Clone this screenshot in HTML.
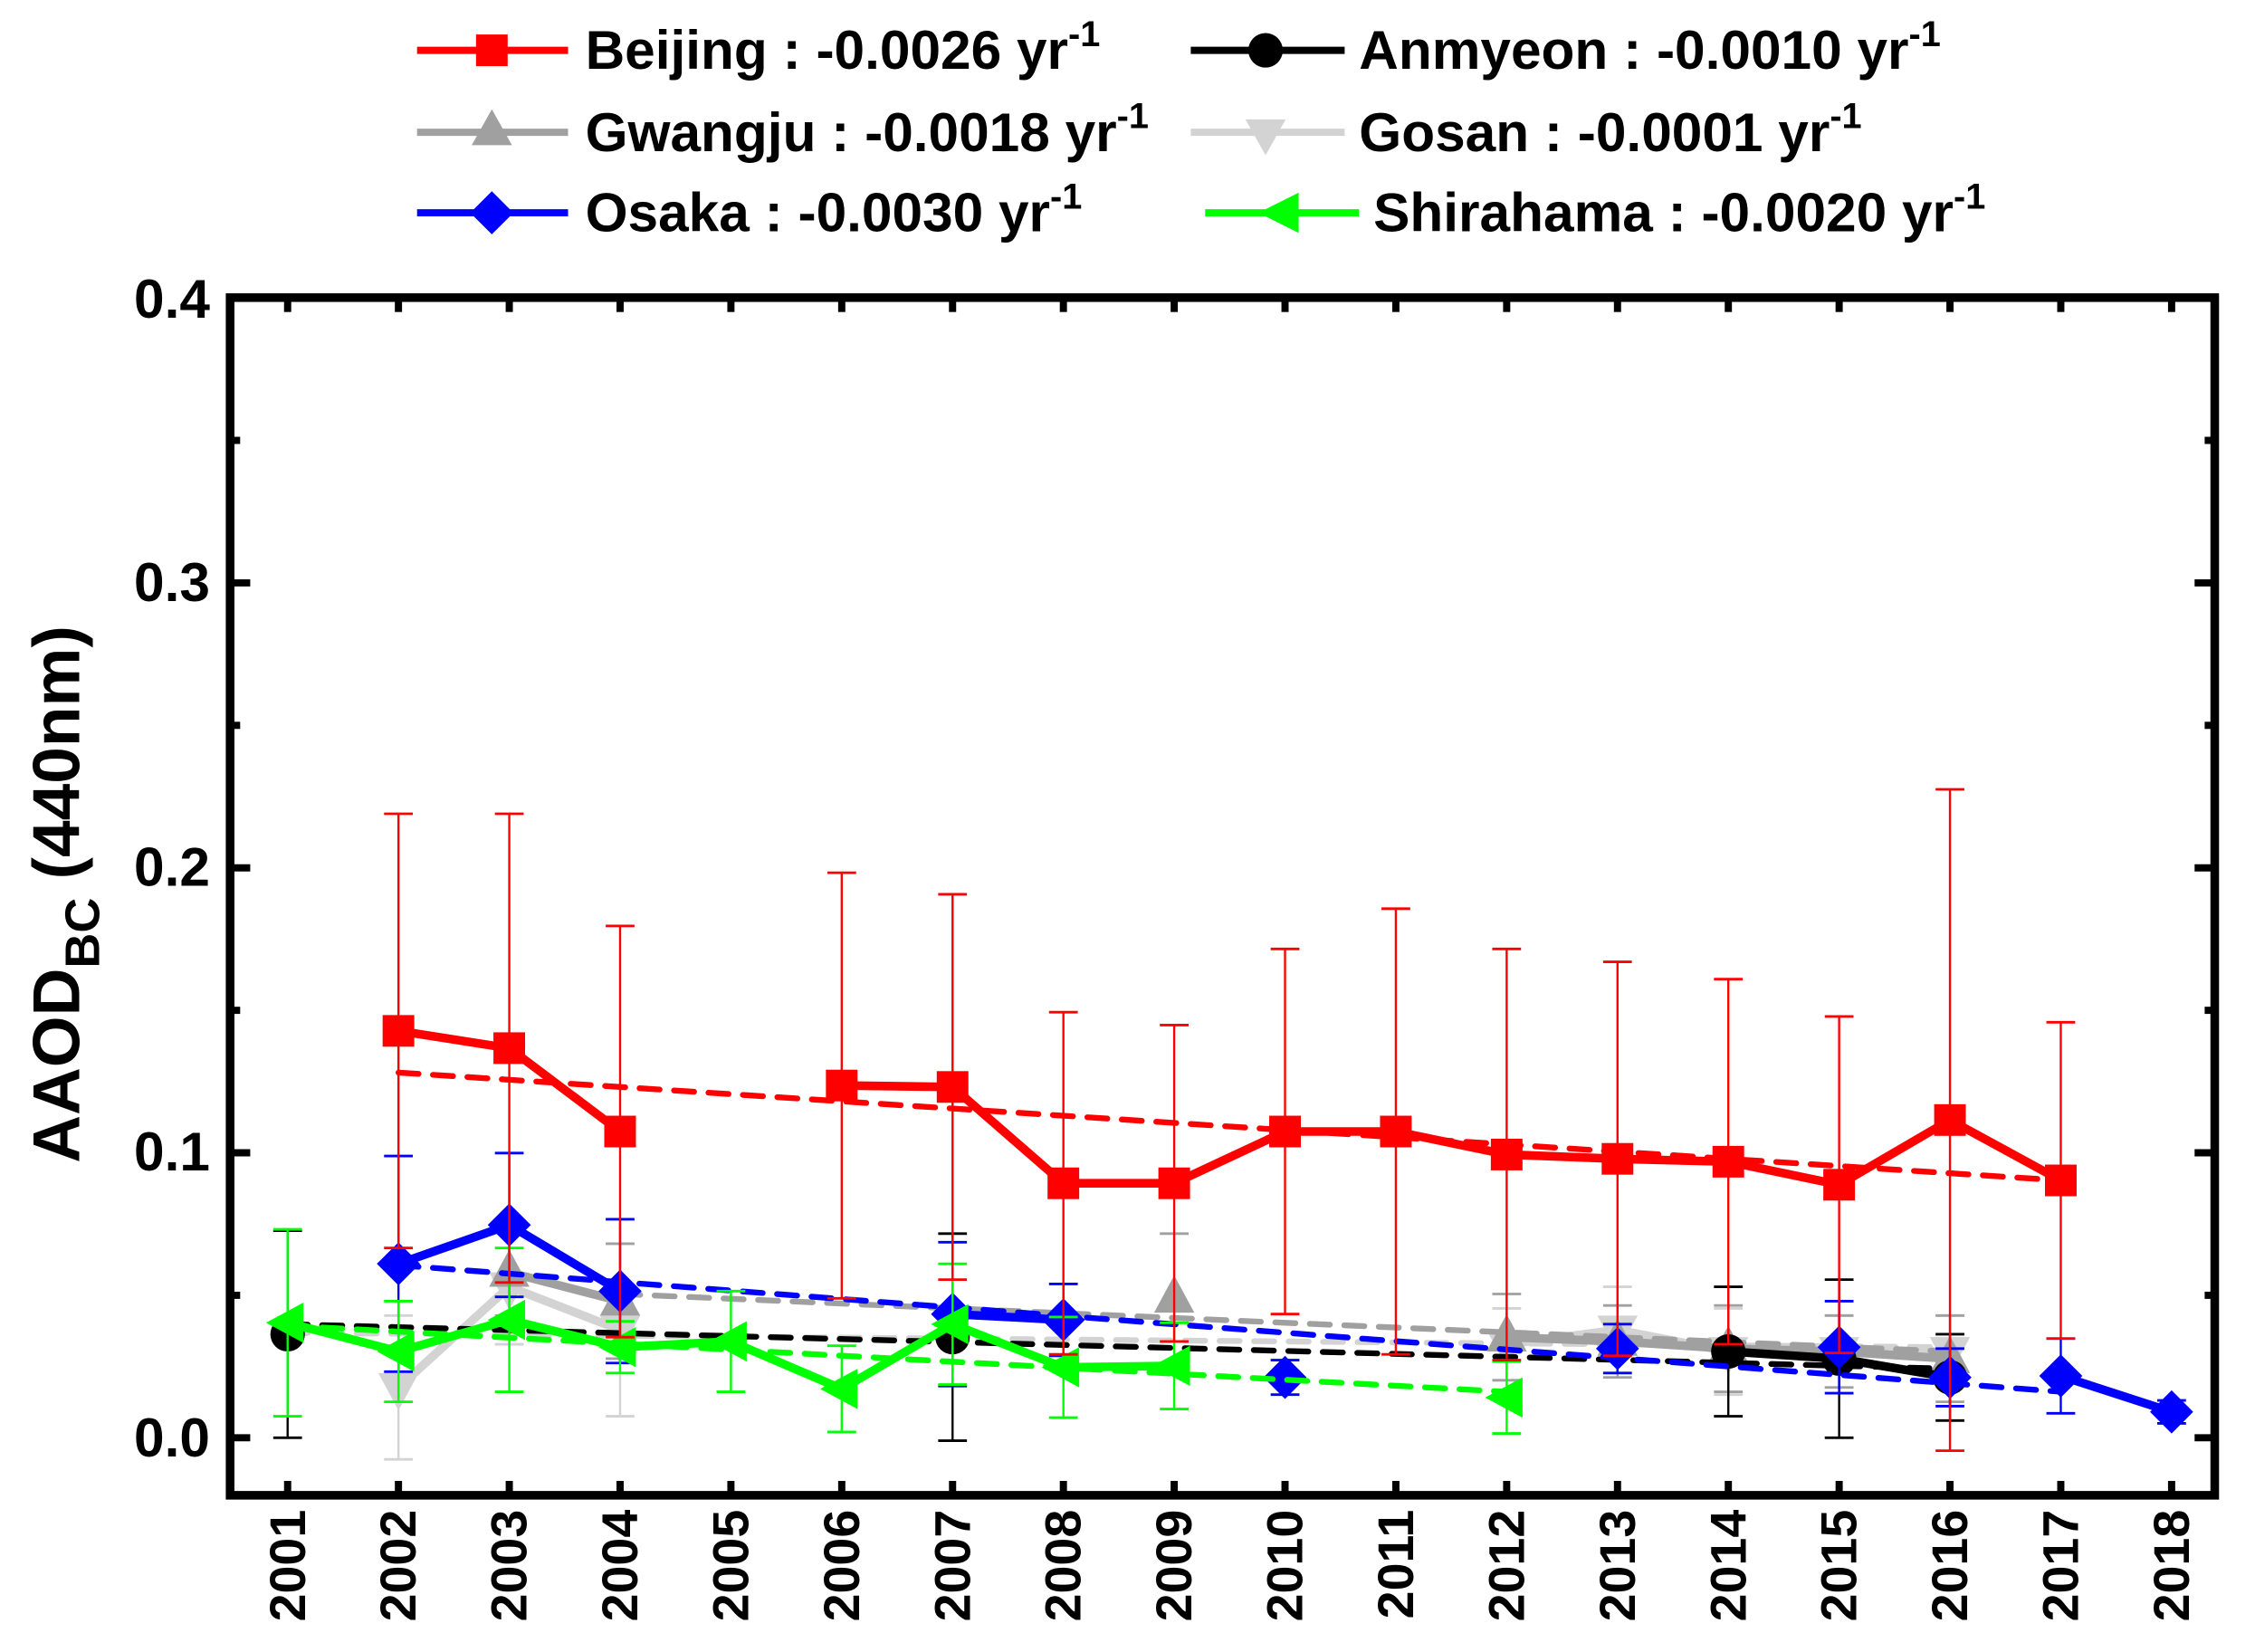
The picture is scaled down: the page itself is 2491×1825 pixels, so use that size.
<!DOCTYPE html>
<html><head><meta charset="utf-8"><style>
html,body{margin:0;padding:0;background:#fff}
svg{display:block}
text{font-family:"Liberation Sans",Arial,sans-serif;font-weight:bold}
</style></head><body>
<svg id="s" width="2491" height="1825" viewBox="0 0 1568 1149" preserveAspectRatio="none" xmlns="http://www.w3.org/2000/svg">
<g id="data"></g>
<rect x="160" y="207" width="1380" height="833" fill="none" stroke="#000" stroke-width="6"/>
<g id="ticks" stroke="#000" stroke-width="5"></g>
<g font-size="38" text-anchor="end">
<text x="146" y="221">0.4</text><text x="146" y="418">0.3</text><text x="146" y="616">0.2</text><text x="146" y="814">0.1</text><text x="146" y="1013">0.0</text>
</g>
<g id="xl" font-size="35" text-anchor="end"></g>
<text transform="translate(55,622) rotate(-90)" font-size="46" text-anchor="middle">AAOD<tspan font-size="34" dy="14">BC</tspan><tspan dy="-14"> (440nm)</tspan></text>
<g font-size="38">
<line x1="290" y1="35" x2="395" y2="35" stroke="#f00" stroke-width="5"/><rect x="331" y="24" width="22" height="22" fill="#f00"/>
<text x="407" y="48">Beijing : -0.0026 yr<tspan font-size="25" dy="-16">-1</tspan></text>
<line x1="828" y1="35" x2="935" y2="35" stroke="#000" stroke-width="5"/><circle cx="880" cy="35" r="12" fill="#000"/>
<text x="945" y="48">Anmyeon : -0.0010 yr<tspan font-size="25" dy="-16">-1</tspan></text>
<line x1="290" y1="92" x2="395" y2="92" stroke="#a0a0a0" stroke-width="5"/><polygon points="342,76 356,101 328,101" fill="#a0a0a0"/>
<text x="407" y="105">Gwangju : -0.0018 yr<tspan font-size="25" dy="-16">-1</tspan></text>
<line x1="828" y1="92" x2="935" y2="92" stroke="#d3d3d3" stroke-width="5"/><polygon points="880,108 894,83 866,83" fill="#d3d3d3"/>
<text x="945" y="105">Gosan : -0.0001 yr<tspan font-size="25" dy="-16">-1</tspan></text>
<line x1="290" y1="148" x2="395" y2="148" stroke="#00f" stroke-width="5"/><polygon points="342,133 357,148 342,163 327,148" fill="#00f"/>
<text x="407" y="161">Osaka : -0.0030 yr<tspan font-size="25" dy="-16">-1</tspan></text>
<line x1="838" y1="148" x2="945" y2="148" stroke="#0f0" stroke-width="5"/><polygon points="875,148 903,134 903,162" fill="#0f0"/>
<text x="955" y="161">Shirahama : -0.0020 yr<tspan font-size="25" dy="-16">-1</tspan></text>
</g>
</svg>
<script>
var NS="http://www.w3.org/2000/svg";
function X(y){return 200+(y-2001)*77.06}
function el(p,t,a){var e=document.createElementNS(NS,t);for(var k in a)e.setAttribute(k,a[k]);p.appendChild(e);return e}
var tk=document.getElementById('ticks');
for(var i=0;i<=8;i++){var y=1000-i*99.1;var L=(i%2==0)?14:7;
 el(tk,'line',{x1:160,y1:y,x2:160+L,y2:y});el(tk,'line',{x1:1540,y1:y,x2:1540-L,y2:y});}
var xl=document.getElementById('xl');
for(var yr=2001;yr<=2018;yr++){var x=X(yr);
 el(tk,'line',{x1:x,y1:1040,x2:x,y2:1030});el(tk,'line',{x1:x,y1:207,x2:x,y2:217});
 var t=el(xl,'text',{transform:'translate('+(x+12)+',1050) rotate(-90)'});t.textContent=yr;}
var d=document.getElementById('data');
var S=[
 {c:'#d3d3d3',m:'v',tr:[2001,927,2016,937],pts:[[2002,965,50],[2003,895,40],[2004,925,60],[2012,935,25],[2013,925,30],[2014,940,30],[2015,940,25],[2016,940,25]],seg:[[2002,2003,2004],[2012,2013,2014,2015,2016]]},
 {c:'#a0a0a0',m:'^',tr:[2004,900,2016,940],pts:[[2003,885,30],[2004,905,40],[2009,903,45],[2012,930,30],[2013,933,25],[2014,938,30],[2015,940,25],[2016,945,30]],seg:[[2003,2004],[2012,2013,2014,2015,2016]]},
 {c:'#000',m:'o',tr:[2001,921,2016,952],pts:[[2001,928,72],[2007,930,72],[2014,940,45],[2015,945,55],[2016,958,30]],seg:[[2014,2015,2016]]},
 {c:'#00f',m:'d',tr:[2002,880,2017,968],pts:[[2002,879,75],[2003,852,50],[2004,898,50],[2007,914,50],[2008,918,25],[2010,958,12],[2013,938,17],[2015,937,32],[2016,958,20],[2017,957,26],[2018,982,8]],seg:[[2002,2003,2004],[2007,2008],[2017,2018]]},
 {c:'#0f0',m:'<',tr:[2001,922,2012,968],pts:[[2001,920,65],[2002,940,35],[2003,918,50],[2004,937,18],[2005,933,35],[2006,966,30],[2007,921,42],[2008,951,35],[2009,950,30],[2012,972,25]],seg:[[2001,2002,2003,2004,2005,2006,2007,2008,2009]]},
 {c:'#f00',m:'s',tr:[2002,746,2017,821],pts:[[2002,717,151],[2003,729,163],[2004,787,143],[2006,755,148],[2007,756,134],[2008,823,119],[2009,823,110],[2010,787,127],[2011,787,155],[2012,803,143],[2013,806,137],[2014,808,127],[2015,824,117],[2016,779,230],[2017,821,110]],seg:[[2002,2003,2004],[2006,2007,2008,2009,2010,2011,2012,2013,2014,2015,2016,2017]]}
];
S.forEach(function(s){
 el(d,'line',{x1:X(s.tr[0]),y1:s.tr[1],x2:X(s.tr[2]),y2:s.tr[3],stroke:s.c,'stroke-width':4,'stroke-dasharray':'14 10','stroke-linecap':'round'});
 var m={};s.pts.forEach(function(p){m[p[0]]=p[1]});
 s.pts.forEach(function(p){var x=X(p[0]);
  el(d,'line',{x1:x,y1:p[1]-p[2],x2:x,y2:p[1]+p[2],stroke:s.c,'stroke-width':1.5});
  el(d,'line',{x1:x-10,y1:p[1]-p[2],x2:x+10,y2:p[1]-p[2],stroke:s.c,'stroke-width':1.8});
  el(d,'line',{x1:x-10,y1:p[1]+p[2],x2:x+10,y2:p[1]+p[2],stroke:s.c,'stroke-width':1.8});});
 s.seg.forEach(function(g){el(d,'polyline',{points:g.map(function(y){return X(y)+','+m[y]}).join(' '),fill:'none',stroke:s.c,'stroke-width':6,'stroke-linejoin':'round'});});
 s.pts.forEach(function(p){var x=X(p[0]),y=p[1];
  if(s.m=='s')el(d,'rect',{x:x-11,y:y-11,width:22,height:22,fill:s.c});
  else if(s.m=='o')el(d,'circle',{cx:x,cy:y,r:12,fill:s.c});
  else if(s.m=='^')el(d,'polygon',{points:(x)+','+(y-16)+' '+(x+14)+','+(y+10)+' '+(x-14)+','+(y+10),fill:s.c});
  else if(s.m=='v')el(d,'polygon',{points:(x)+','+(y+16)+' '+(x+14)+','+(y-10)+' '+(x-14)+','+(y-10),fill:s.c});
  else if(s.m=='d')el(d,'polygon',{points:x+','+(y-15)+' '+(x+15)+','+y+' '+x+','+(y+15)+' '+(x-15)+','+y,fill:s.c});
  else el(d,'polygon',{points:(x-15)+','+y+' '+(x+11)+','+(y-14)+' '+(x+11)+','+(y+14),fill:s.c});});
});
</script>
</body></html>
